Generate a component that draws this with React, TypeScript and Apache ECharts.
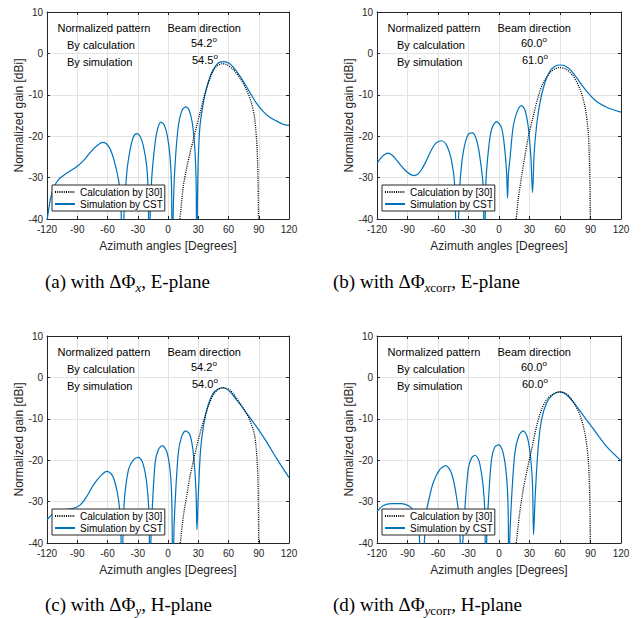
import React, { useEffect, useRef } from "react";
import * as echarts from "echarts";

// ---------- data (angle in degrees, normalized gain in dBi) ----------
const xMin = -120;
const xMax = 120;
const xStep = 30;
const yMin = -40;
const yMax = 10;
const yStep = 10;

const seriesNames = ["Calculation by [30]", "Simulation by CST"];
const xTitle = "Azimuth angles [Degrees]";
const yTitle = "Normalized gain [dBi]";

const calcA: number[][] = [
  [11.5, -41], [15.2, -32.1], [18.5, -27.7], [21.8, -24.1], [25.1, -20.8], [28.4, -17.6],
  [31.7, -14.4], [35, -11.2], [38.3, -8.4], [43.2, -5.1], [48.2, -3.1], [54.2, -2.5],
  [58.1, -2.7], [64.7, -3.9], [71.2, -5.9], [77.8, -8.8], [82.8, -12], [86.1, -16],
  [88.4, -23.3], [89.4, -32], [89.9, -45],
];
const simA: number[][] = [
  [-120, -40.5], [-116.7, -35.3], [-113.4, -32.5], [-108.5, -30.5], [-100.2, -28.9], [-90.3, -27.3],
  [-83.7, -25.9], [-77.1, -23.9], [-70.5, -22.3], [-64.6, -21.5], [-59, -22.4], [-54.1, -25.3],
  [-49.1, -30.5], [-46.8, -35.3], [-45.3, -55],
  [-44.2, -42], [-40.9, -28.9], [-37.6, -23.3], [-34.3, -20.2], [-31, -19.4], [-27.7, -20],
  [-24.4, -22.4], [-21.1, -27.3], [-19.5, -35], [-18.8, -55],
  [-17.8, -40], [-16.1, -30], [-12.8, -21.6], [-10.5, -18.4], [-7.2, -16.6], [-3.9, -17.2],
  [-0.6, -20], [2, -24.9], [3.5, -32], [4.3, -55],
  [5.2, -38], [6.9, -27.3], [10.2, -17.6], [13.5, -14], [17.5, -12.9], [20.8, -13.6],
  [24.1, -16.8], [26.7, -23.3], [28, -33], [28.4, -55],
  [29.2, -36], [30, -25.7], [31.7, -17.6], [35, -12], [38.3, -8.4], [43.2, -4.7],
  [48.2, -2.7], [51.5, -2.1], [55.7, -2.0], [61.3, -2.5], [67.9, -4.3], [74.5, -6.7],
  [81.1, -9.4], [87.7, -12], [94.3, -14], [100.9, -15.4], [107.5, -16.3], [114.1, -17.1],
  [120, -17.4],
];

const calcB: number[][] = [
  [16.6, -41], [18.9, -35.3], [22.2, -29.7], [25.4, -24.9], [28.7, -20.4], [33.6, -15.2],
  [38.6, -10.4], [43.5, -7.1], [50.1, -4.7], [55, -3.7], [60, -3.4], [66.5, -3.9],
  [73.1, -5.5], [79.6, -8.6], [84.5, -12.8], [87.8, -19.2], [89.3, -30], [89.9, -45],
];
const simB: number[][] = [
  [-120, -26.6], [-114.5, -24.8], [-109.2, -24.1], [-105, -24.6], [-101, -25.7], [-96.8, -27],
  [-92.8, -28.1], [-88, -29.1], [-83.9, -29.5], [-80, -29.2], [-76.3, -28.1], [-72, -26.2],
  [-68.1, -24.1], [-64.8, -22.6], [-61.6, -21.6], [-56.6, -21.1], [-51.7, -22.1], [-46.8, -25.7],
  [-43.5, -32.1], [-41.5, -55],
  [-40, -42], [-38.6, -32.1], [-35.3, -24.1], [-30.4, -19.6], [-26.1, -19.2], [-22.2, -20.8],
  [-18.9, -24.9], [-15.6, -32.1], [-14.3, -55],
  [-13, -32.1], [-10.7, -24.1], [-7.4, -18.4], [-2.5, -16.5], [2.5, -18], [5.7, -23.3],
  [7.5, -29], [8.4, -35], [8.4, -35], [9.3, -29], [10.7, -25.7], [14, -17.6],
  [17.9, -14], [22.2, -12.6], [25.4, -13.6], [28.7, -17.6], [31.3, -24.9], [33, -33.6],
  [33, -33.6], [34.6, -24], [36.9, -17.6], [40.2, -12], [45.1, -7.1], [50.1, -4.3],
  [55, -3.1], [60.5, -2.8], [64.8, -3], [71.4, -4.3], [79.6, -7], [87.8, -9.6],
  [96, -11.6], [105.9, -13], [112.4, -13.6], [120, -14.2],
];

const calcC: number[][] = [
  [11.8, -41], [15.2, -33.6], [18.5, -28.7], [21.8, -23.9], [25.1, -20.3], [28.4, -16.7],
  [31.7, -13.5], [35.6, -10.3], [39.9, -7], [44.9, -4.2], [49.8, -2.9], [54.2, -2.5],
  [61.3, -3], [67.9, -5], [74.5, -7.4], [81.1, -10.3], [86.1, -14.3], [88.7, -21.5],
  [89.6, -30], [90, -45],
];
const simC: number[][] = [
  [-120, -34.4], [-113.4, -32.8], [-103.5, -32], [-93.6, -31.6], [-87, -30.8], [-80.4, -28.7],
  [-73.8, -25.9], [-67.2, -23.9], [-60.7, -22.7], [-55.7, -23.5], [-52.4, -25.5], [-49.1, -29.5],
  [-46.8, -36], [-46, -55],
  [-45, -42], [-43.5, -30.4], [-39.2, -22.3], [-34.3, -19.9], [-29.3, -19.3], [-25, -20.7],
  [-21.1, -25.5], [-18.8, -33.6], [-18, -55],
  [-17, -40], [-16.1, -34], [-12.8, -20.7], [-9.6, -17.5], [-5.6, -16.5], [-1.3, -17.9],
  [2, -22.3], [3.8, -30], [4.8, -55],
  [5.8, -38], [6.9, -31], [10.2, -18.3], [13.5, -14.3], [17.5, -12.9], [21.8, -13.9],
  [25.1, -18.3], [27.7, -27.1], [28.7, -36.8], [28.7, -36.8], [30, -28.7], [32.3, -17.5],
  [35.6, -11.1], [39.9, -6.6], [44.9, -3.8], [49.8, -2.8], [54.7, -2.5], [61.3, -3.4],
  [67.9, -5.4], [77.8, -8.6], [87.7, -11.9], [97.6, -15.5], [107.5, -19.5], [120, -24.2],
];

const calcD: number[][] = [
  [16.6, -41], [19.9, -33.6], [23.8, -27.1], [27.7, -22.3], [32, -17.5], [36.9, -11.9],
  [41.8, -7.8], [46.8, -5.4], [53.3, -4], [60, -3.5], [66.5, -4], [73.1, -5.9],
  [79.6, -9.1], [84.5, -13.5], [87.8, -19.9], [89.3, -30], [89.9, -45],
];
const simD: number[][] = [
  [-120, -32.4], [-114.1, -31], [-105.9, -30.5], [-96, -30.5], [-87.8, -31.2], [-82.9, -32.8],
  [-79, -36], [-76, -50],
  [-73, -38], [-71.4, -32.5], [-69.8, -30.4], [-64.8, -25.5], [-58.3, -22.3], [-52.4, -21.3],
  [-46.8, -23.1], [-41.9, -28.7], [-38.6, -36], [-37.2, -55],
  [-36, -42], [-34.3, -34.4], [-30.4, -22.3], [-27.1, -19.5], [-23.5, -18.8], [-19.5, -20.3],
  [-15.6, -26.3], [-13.8, -34], [-13.2, -55],
  [-12.2, -40], [-10.7, -31.2], [-7.4, -19.9], [-4.1, -16.8], [-0.2, -16.3], [4.1, -18.3],
  [7.4, -23.9], [9, -32], [9.7, -55],
  [10.5, -40], [12.3, -29.6], [15.6, -18.3], [19.5, -14.1], [23.8, -12.9], [27.7, -14.3],
  [31, -19.1], [33, -26.3], [34, -38], [34, -38], [35.6, -28.7], [38.6, -16.7],
  [41.8, -10.3], [46.8, -6.2], [53.3, -4.1], [59.9, -3.5], [66.5, -4.2], [76.3, -7],
  [86.2, -10.3], [96, -13.5], [105.9, -16.7], [120, -20.1],
];

const calcSeries = [calcA, calcB, calcC, calcD];
const simSeries = [simA, simB, simC, simD];

const headerLeft = "Normalized pattern";
const headerRight = "Beam direction";
const rowLabels = ["By calculation", "By simulation"];
const beamCalc = ["54.2", "60.0", "54.2", "60.0"];
const beamSim = ["54.5", "61.0", "54.0", "60.0"];

const captionPrefix = ["(a) with ΔΦ", "(b) with ΔΦ", "(c) with ΔΦ", "(d) with ΔΦ"];
const captionSubItalic = ["x", "x", "y", "y"];
const captionSubRoman = ["", "corr", "", "corr"];
const captionSuffix = [", E-plane", ", E-plane", ", H-plane", ", H-plane"];

// ---------- layout ----------
const GL = [47, 377, 47, 377];
const GT = [12, 12, 336, 336];
const GW = [242, 244, 242, 244];
const GH = 207;
const CAP_X = [45, 333, 45, 333];
const CAP_Y = [279, 279, 602, 602];

const SANS = "'Liberation Sans', Arial, Helvetica, sans-serif";
const SERIF = "'Liberation Serif', 'Times New Roman', Times, serif";
const AXIS = "#262626";
const GRIDC = "#e3e3e3";
const BLUE = "#0072BD";

export default function App() {
  const ref = useRef<HTMLDivElement>(null);

  useEffect(() => {
    const chart = echarts.init(ref.current!, null, { renderer: "svg" });

    const grids: any[] = [];
    const xAxes: any[] = [];
    const yAxes: any[] = [];
    const series: any[] = [];
    const legends: any[] = [];
    const elements: any[] = [];

    const axisLine = { show: true, onZero: false, lineStyle: { color: AXIS, width: 1 } };
    const axisTick = { show: true, inside: true, length: 3, lineStyle: { color: AXIS, width: 1 } };

    for (let i = 0; i < 4; i++) {
      grids.push({ left: GL[i], top: GT[i], width: GW[i], height: GH, show: false });

      xAxes.push({
        gridIndex: i, type: "value", position: "bottom",
        min: xMin, max: xMax, interval: xStep,
        axisLine, axisTick,
        axisLabel: { fontSize: 10, color: AXIS, margin: 5, fontFamily: SANS },
        splitLine: { show: true, lineStyle: { color: GRIDC, width: 1 } },
        name: xTitle, nameLocation: "middle", nameGap: 21,
        nameTextStyle: { fontSize: 12, color: AXIS, fontFamily: SANS },
      });
      xAxes.push({
        gridIndex: i, type: "value", position: "top",
        min: xMin, max: xMax, interval: xStep,
        axisLine, axisTick, axisLabel: { show: false }, splitLine: { show: false },
      });
      yAxes.push({
        gridIndex: i, type: "value", position: "left",
        min: yMin, max: yMax, interval: yStep,
        axisLine, axisTick,
        axisLabel: { fontSize: 10, color: AXIS, margin: 4, fontFamily: SANS },
        splitLine: { show: true, lineStyle: { color: GRIDC, width: 1 } },
        name: yTitle, nameLocation: "middle", nameGap: 22,
        nameTextStyle: { fontSize: 12, color: AXIS, fontFamily: SANS },
      });
      yAxes.push({
        gridIndex: i, type: "value", position: "right",
        min: yMin, max: yMax, interval: yStep,
        axisLine, axisTick, axisLabel: { show: false }, splitLine: { show: false },
      });

      series.push({
        type: "line", name: seriesNames[1], xAxisIndex: 2 * i, yAxisIndex: 2 * i,
        data: simSeries[i], symbol: "none", showSymbol: false, smooth: 0.3, clip: true,
        lineStyle: { color: BLUE, width: 1.2 }, itemStyle: { color: BLUE }, z: 2,
      });
      series.push({
        type: "line", name: seriesNames[0], xAxisIndex: 2 * i, yAxisIndex: 2 * i,
        data: calcSeries[i], symbol: "none", showSymbol: false, smooth: 0.3, clip: true,
        lineStyle: { color: "#000", width: 1.3, type: [1, 1.2] }, itemStyle: { color: "#000" }, z: 3,
      });

      legends.push({
        left: GL[i] + 5, top: GT[i] + 173, orient: "vertical",
        data: seriesNames, selectedMode: false,
        backgroundColor: "#fff", borderColor: AXIS, borderWidth: 1, borderRadius: 0,
        padding: [2, 2, 2, 2], itemGap: 2, itemWidth: 20, itemHeight: 12,
        itemStyle: { color: "transparent", borderColor: "transparent", borderWidth: 0, opacity: 0 },
        textStyle: { fontSize: 10, color: "#000", fontFamily: SANS },
      });

      const tx = (dx: number, dy: number, text: string) => ({
        type: "text", x: GL[i] + dx, y: GT[i] + dy, z: 10,
        style: { text, fontSize: 11, fontFamily: SANS, fill: "#000", verticalAlign: "middle" },
      });
      elements.push(tx(10.5, 16, headerLeft));
      elements.push(tx(120.5, 16, headerRight));
      elements.push(tx(20, 33, rowLabels[0]));
      elements.push(tx(20, 50, rowLabels[1]));
      const deg = (dx: number, dy: number, v: string) => ({
        type: "text", x: GL[i] + dx, y: GT[i] + dy, z: 10,
        style: {
          text: `{v|${v}}{s|o}`, verticalAlign: "middle",
          rich: {
            v: { fontSize: 11, fontFamily: SANS, fill: "#000", lineHeight: 16 },
            s: { fontSize: 8, fontFamily: SANS, fill: "#000", lineHeight: 9, verticalAlign: "top" },
          },
        },
      });
      elements.push(deg(144, 31, beamCalc[i]));
      elements.push(deg(145, 48, beamSim[i]));

      const sub = captionSubRoman[i] ? `{r|${captionSubRoman[i]}}` : "";
      elements.push({
        type: "text", x: CAP_X[i], y: CAP_Y[i] + 2, z: 10,
        style: {
          text: `{n|${captionPrefix[i]}}{i|${captionSubItalic[i]}}${sub}{n|${captionSuffix[i]}}`,
          verticalAlign: "middle",
          rich: {
            n: { fontSize: 19, fontFamily: SERIF, fill: "#000", lineHeight: 26, verticalAlign: "middle" },
            i: { fontSize: 13, fontFamily: SERIF, fontStyle: "italic", fill: "#000", lineHeight: 13, verticalAlign: "bottom" },
            r: { fontSize: 13, fontFamily: SERIF, fill: "#000", lineHeight: 13, verticalAlign: "bottom" },
          },
        },
      });
    }

    chart.setOption({
      animation: false,
      backgroundColor: "#fff",
      grid: grids,
      xAxis: xAxes,
      yAxis: yAxes,
      series,
      legend: legends,
      graphic: { elements },
    });

    return () => chart.dispose();
  }, []);

  return (
    <div
      ref={ref}
      style={{ position: "absolute", left: 0, top: 0, width: 643, height: 618, background: "#fff" }}
    />
  );
}
